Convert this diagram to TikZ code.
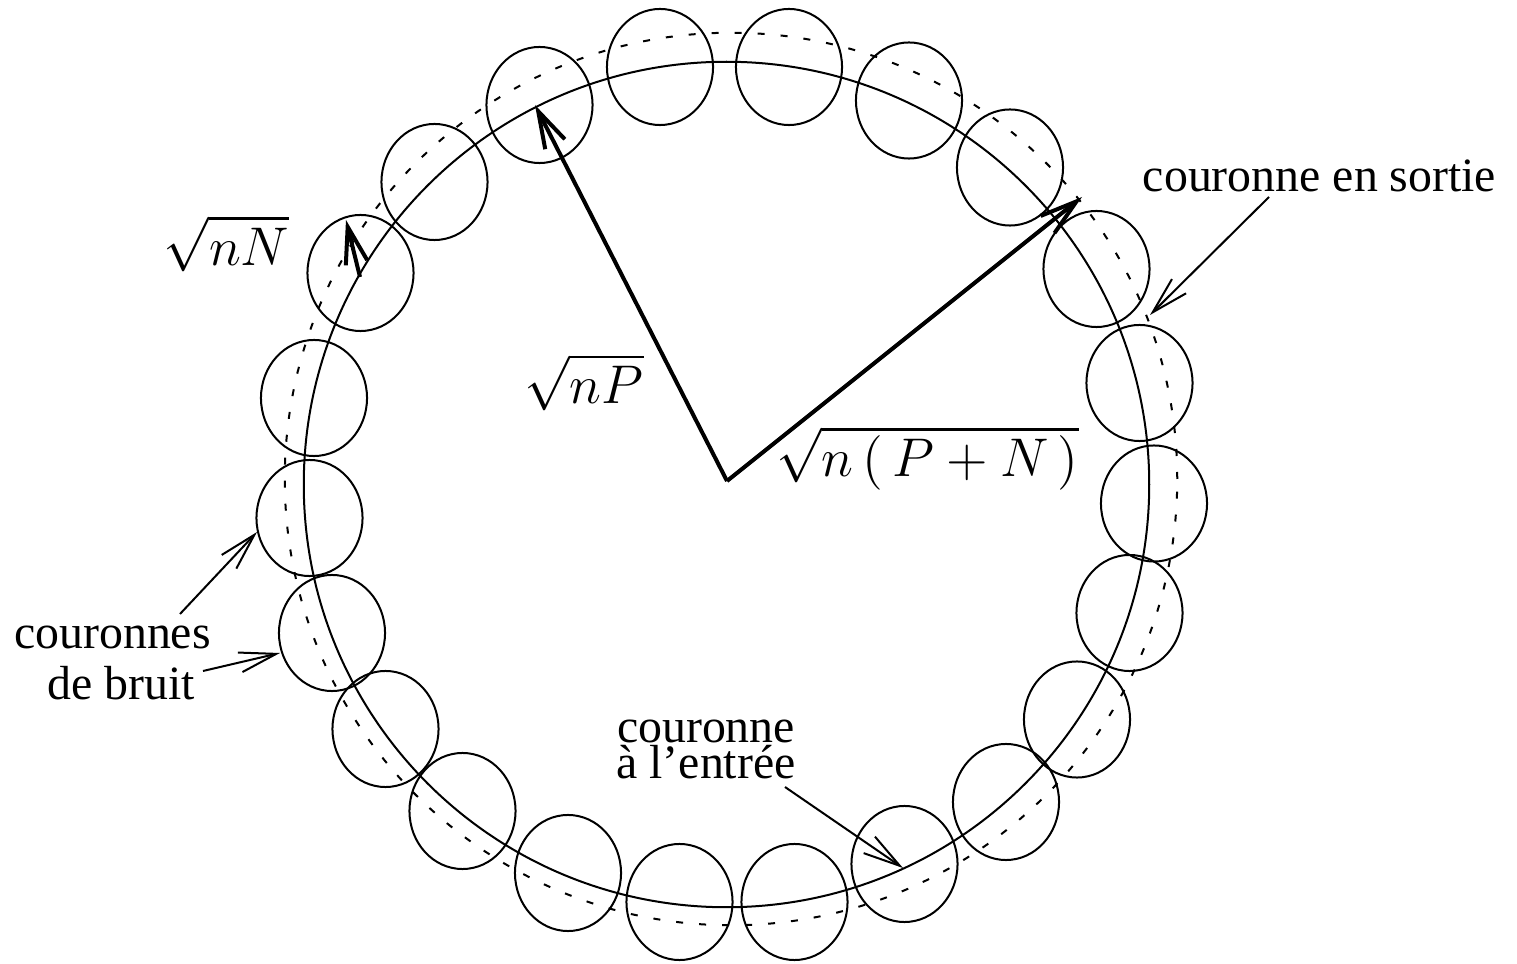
\RequirePackage{fix-cm}
\documentclass[tikz,border=0pt]{standalone}
\usepackage[no-math]{fontspec}
\newfontfamily\tmfont{Liberation Serif}
\usetikzlibrary{arrows.meta,shapes.geometric}
\tikzset{
  ball/.style={draw, ellipse, line width=0.02cm, minimum width=1.06cm, minimum height=1.16cm, inner sep=0pt},
  ring/.style={line width=0.02cm},
  dashring/.style={line width=0.02cm, dash pattern=on 0.07cm off 0.16cm},
  thinarr/.style={line width=0.02cm, -{Straight Barb[length=0.37cm,width=0.2cm]}},
  thickarr/.style={line width=0.04cm, -{Straight Barb[length=0.37cm,width=0.22cm]}},
  lbl/.style={font=\tmfont\fontsize{13.6}{16}\selectfont, inner sep=0pt, anchor=base},
  lbltwo/.style={font=\tmfont\fontsize{13.6}{10.5}\selectfont, inner sep=0pt, anchor=base, align=center},
  mlbl/.style={font=\fontsize{15.5}{18}\selectfont, inner sep=0pt}
}
\begin{document}
\begin{tikzpicture}[x=0.01cm,y=-0.01cm]
\useasboundingbox (0,0) rectangle (1517,964);
% corona circles
\coordinate (Cin) at (726.5,484.5);
\coordinate (Cout) at (731,479);
\draw[ring] (Cin) circle[radius=4.225cm];
\draw[dashring] (Cout) circle[radius=4.46cm];
% noise balls
\foreach \x/\y [count=\i] in {660/67, 789/67, 909/100.5, 1010/167.5, 1096.5/269, 1139.5/383, 1154/503.5, 1129.5/613, 1077/719.5, 1006/802, 904.5/864, 794.5/902, 679.5/902, 568/873, 462.5/811, 385.5/729, 332/633, 309.5/518, 314/398, 360.5/273, 434.5/182, 539.5/105}
  \node[ball] (b\i) at (\x,\y) {};
% radius vectors
\coordinate (O) at (727,481);
\coordinate (tP) at (535,105);
\coordinate (tPN) at (1082,197);
\draw[thickarr] (O) -- (tP);
\draw[thickarr] (O) -- (tPN);
\coordinate (nS) at (360,277);
\coordinate (nT) at (346,220);
\draw[thickarr] (nS) -- (nT);
% math labels
\node[mlbl] (lN) at (226.5,243.5) {$\sqrt{nN}$};
\node[mlbl] (lP) at (584,382) {$\sqrt{nP}$};
\node[mlbl] (lPN) at (927.5,454.5) {$\sqrt{\vphantom{N}\smash{n\,(\,P+N\,)}}$};
% text labels
\node[lbl] (ls) at (1319.5,192) {couronne en sortie};
\node[lbl] (lb1) at (112.5,649) {couronnes};
\node[lbl] (lb2) at (121.5,700) {de bruit};
\node[lbltwo] (le) at (706,779) {couronne\\à l’entrée};
% pointer arrows
\coordinate (s1) at (1269,197);
\coordinate (t1) at (1150,315);
\draw[thinarr] (s1) -- (t1);
\coordinate (s2) at (180,614);
\coordinate (t2) at (257,532);
\draw[thinarr] (s2) -- (t2);
\coordinate (s3) at (203,671);
\coordinate (t3) at (280,653);
\draw[thinarr] (s3) -- (t3);
\coordinate (s4) at (785,787);
\coordinate (t4) at (903,868);
\draw[thinarr] (s4) -- (t4);
\end{tikzpicture}
\end{document}
